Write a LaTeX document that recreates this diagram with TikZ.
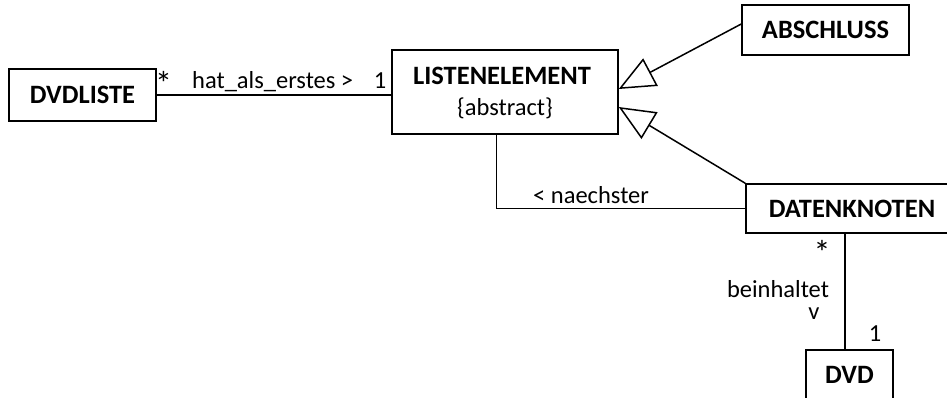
\documentclass[tikz,border=0pt]{standalone}
\usepackage{fontspec}
\setmainfont{Carlito}
\usetikzlibrary{arrows.meta,calc}
\begin{document}
\begin{tikzpicture}[x=1pt,y=-1pt,
  box/.style={draw, line width=1.5pt, inner sep=0pt, font=\bfseries\fontsize{26.5}{30}\selectfont},
  lbl/.style={inner sep=0pt, anchor=base, font=\fontsize{24.5}{29}\selectfont},
  star/.style={inner sep=0pt, anchor=north, font=\fontsize{34}{36}\selectfont},
  conn/.style={line width=1.5pt},
  gen/.style={conn, -{Triangle[open, length=36pt, width=31pt, line width=1.5pt]}}]
\useasboundingbox (0,0) rectangle (947,398);
\clip (0,0) rectangle (947,398);
% classes
\node[box, minimum width=147pt, minimum height=52pt] (dvdl) at (82.5,95) {DVDLISTE};
\node[box, minimum width=226pt, minimum height=84pt] (le) at (505,92) {};
\node[lbl, font=\bfseries\fontsize{26.5}{30}\selectfont] (lename) at (502,84.5) {LISTENELEMENT};
\node[lbl] (leabs) at (505,116) {\{abstract\}};
\node[box, minimum width=167pt, minimum height=50pt] (ab) at (825.5,30) {ABSCHLUSS};
\node[box, minimum width=212pt, minimum height=49pt] (dk) at (852,208.5) {DATENKNOTEN};
\node[box, minimum width=87pt, minimum height=50pt] (dvd) at (849.5,375) {DVD};
% connectors
\draw[conn] (dvdl.east) -- (dvdl.east -| le.west);
\draw[conn] (le.south west) ++(105,0) |- (dk.west);
\coordinate (tipA) at ($(le.east)+(0,-3)$);
\coordinate (tipB) at ($(le.east)+(0,15)$);
\draw[gen] ($(ab.west)+(0,-6)$) -- (tipA);
\draw[gen] (dk.north west) -- (tipB);
\draw[conn] (dvd.north) ++(-4.5,0) coordinate (dvdtop) -- (dvdtop |- dk.south);
% labels
\node[star] (m1) at (163.5,71) {*};
\node[lbl, anchor=base west] (hat) at (192,89) {hat\_als\_erstes >};
\node[lbl] (o1) at (380,89) {1};
\node[lbl, anchor=base west] (nx) at (533,204) {< naechster};
\node[star] (m2) at (822,240) {*};
\node[lbl] (bh) at (778,297) {beinhaltet};
\node[lbl] (vv) at (814,319) {v};
\node[lbl] (o2) at (875,341) {1};
\end{tikzpicture}
\end{document}
